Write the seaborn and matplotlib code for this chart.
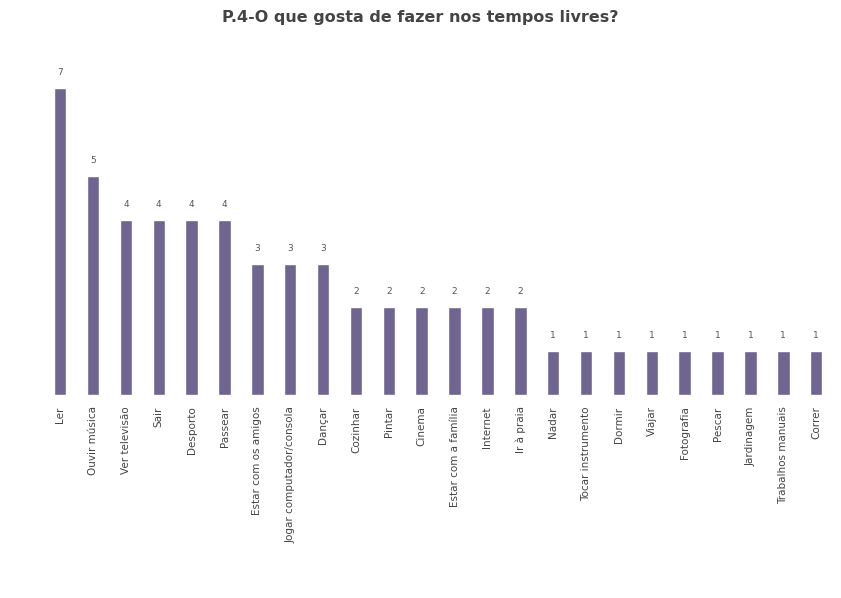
import matplotlib
matplotlib.use("Agg")
import matplotlib.pyplot as plt
import seaborn as sns
import pandas as pd

# Data
atividades = [
    "Ler", "Ouvir música", "Ver televisão", "Sair", "Desporto", "Passear",
    "Estar com os amigos", "Jogar computador/consola", "Dançar",
    "Cozinhar", "Pintar", "Cinema", "Estar com a família", "Internet",
    "Ir à praia", "Nadar", "Tocar instrumento", "Dormir", "Viajar",
    "Fotografia", "Pescar", "Jardinagem", "Trabalhos manuais", "Correr",
]
respostas = [7, 5, 4, 4, 4, 4, 3, 3, 3, 2, 2, 2, 2, 2, 2, 1, 1, 1, 1, 1, 1, 1, 1, 1]

df = pd.DataFrame({"Atividade": atividades, "Respostas": respostas})

sns.set_style("white")
fig = plt.figure(figsize=(8.41, 5.98), dpi=100)
ax = fig.add_axes([0.052, 0.339, 0.938, 0.58])

sns.barplot(data=df, x="Atividade", y="Respostas", color="#6f6590",
            width=0.38, saturation=1, ax=ax)

for i, v in enumerate(respostas):
    ax.text(i, v + 0.25, str(v), ha="center", va="bottom", fontsize=6.5, color="#555555")

ax.set_ylim(0, 7.9)
ax.set_xlim(-0.5, len(atividades) - 0.5)
ax.set_yticks([])
ax.set_xlabel("")
ax.set_ylabel("")
ax.tick_params(axis="x", length=0, pad=8, labelsize=7.5, labelcolor="#444444")
plt.setp(ax.get_xticklabels(), rotation=90)
sns.despine(ax=ax, left=True, top=True, right=True, bottom=True)

fig.text(0.5, 0.97, "P.4-O que gosta de fazer nos tempos livres?", ha="center",
         va="center", fontsize=11.5, fontweight="bold", color="#444444")

fig.savefig("out.png", dpi=100)
